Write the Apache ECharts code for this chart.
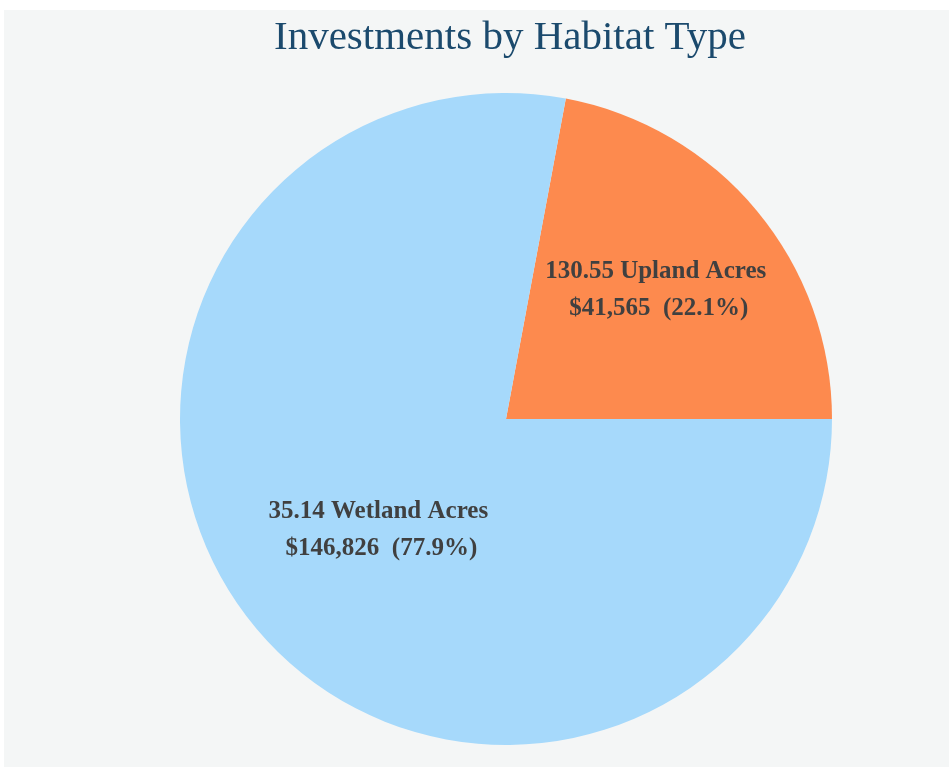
<!DOCTYPE html>
<html><head><meta charset="utf-8">
<script src="https://cdn.jsdelivr.net/npm/echarts@6/dist/echarts.min.js"></script>
<style>
html,body{margin:0;padding:0;background:#ffffff;width:949px;height:767px;overflow:hidden;}
#c{position:absolute;left:4px;top:10px;width:945px;height:757px;background:#f4f6f6;}
</style></head><body>
<div id="c"></div>
<script>
const categories = ["Upland", "Wetland"];
const acres = ["130.55", "35.14"];
const dollars = [41565, 146826];
const dollarLabels = ["$41,565", "$146,826"];
const percents = ["22.1%", "77.9%"];
const colors = ["#fd8a4e", "#a6d9fb"];
const labelOffsets = [[22, -23], [0, 5]];

const chart = echarts.init(document.getElementById('c'), null, {renderer: 'canvas'});
chart.setOption({
  backgroundColor: '#f4f6f6',
  animation: false,
  title: {
    text: 'Investments by Habitat Type',
    left: 265,
    top: 3,
    textStyle: {fontFamily: 'Liberation Serif', fontWeight: 'normal', fontSize: 41, color: '#1b4a6d'}
  },
  series: [{
    type: 'pie',
    center: [502, 409],
    radius: 326,
    startAngle: 0,
    clockwise: false,
    silent: true,
    label: {
      show: true,
      position: 'inside',
      fontFamily: 'Liberation Serif',
      fontWeight: 'bold',
      fontSize: 25,
      lineHeight: 37,
      color: '#404040',
      align: 'center'
    },
    labelLine: {show: false},
    itemStyle: {borderWidth: 0},
    data: categories.map((c, i) => ({
      name: c,
      value: dollars[i],
      itemStyle: {color: colors[i]},
      label: {
        offset: labelOffsets[i],
        formatter: acres[i] + ' ' + c + ' Acres\n ' + dollarLabels[i] + '  (' + percents[i] + ')'
      }
    }))
  }]
});
</script>
</body></html>
